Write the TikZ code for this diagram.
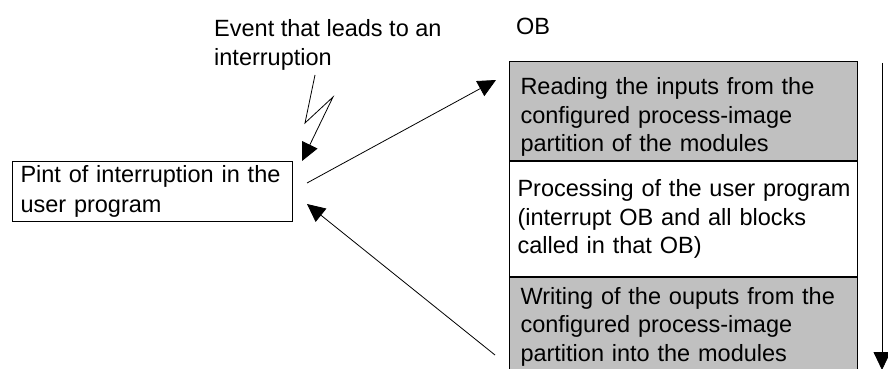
\documentclass[tikz,border=0pt]{standalone}
\usepackage{fontspec}
\setmainfont{Liberation Sans}
\usetikzlibrary{arrows.meta}
\definecolor{obgray}{RGB}{192,192,192}
\tikzset{
  txt/.style={font=\fontsize{23.5}{29}\selectfont, align=left, inner sep=0pt},
  obbox/.style={draw, line width=1pt, anchor=north west, minimum width=348pt,
                text width=326pt, align=left, inner xsep=11pt, inner ysep=0pt,
                font=\fontsize{23.5}{28.5}\selectfont},
  flow/.style={->, line width=0.8pt}
}
\begin{document}
\begin{tikzpicture}[x=1pt, y=-1pt, >={Triangle[length=18pt,width=17pt]}]
  \useasboundingbox (0,0) rectangle (888,369);
  \clip (0,0) rectangle (888,369);
  % Punto de interrupcion
  \node[draw, line width=1pt, anchor=north west, minimum width=280pt, minimum height=60pt,
        text width=264pt, inner xsep=8pt, inner ysep=0pt, align=left,
        font=\fontsize{23.5}{30}\selectfont] (point) at (12,161)
      {Pint of interruption in the\\user program};
  \node[txt, anchor=north west] (event) at (214,19) {Event that leads to an\\interruption};
  % Bloques del OB
  \node[txt, anchor=west] (ob) at (516,26) {OB};
  \node[obbox, fill=obgray, minimum height=99pt] (readbox) at (509,61)
      {\rule{0pt}{29pt}Reading the inputs from the\\configured process-image\\partition of the modules};
  \node[obbox, fill=white, minimum height=115pt, inner xsep=8pt, text width=332pt] (procbox) at (readbox.south west)
      {\mbox{Processing of the user program}\\(interrupt OB and all blocks\\called in that OB)};
  \node[obbox, fill=obgray, minimum height=98pt, inner xsep=10pt] (writebox) at (procbox.south west)
      {Writing of the ouputs from the\\configured process-image\\partition into the modules};
  \draw[line width=2.5pt] (readbox.south west) -- (readbox.south east);
  % Flechas
  \coordinate (hit) at (307,183);
  \coordinate (back) at (307,204);
  \coordinate (readin) at (496,80);
  \coordinate (writeout) at (495,355);
  \coordinate (bolt) at (315,75);
  \draw[flow] (bolt) -- (305,123) -- (333,97) -- (302,161);
  \draw[flow] (hit) -- (readin);
  \draw[flow] (writeout) -- (back);
  \draw[flow] (882,63) -- (882,370);
\end{tikzpicture}
\end{document}
